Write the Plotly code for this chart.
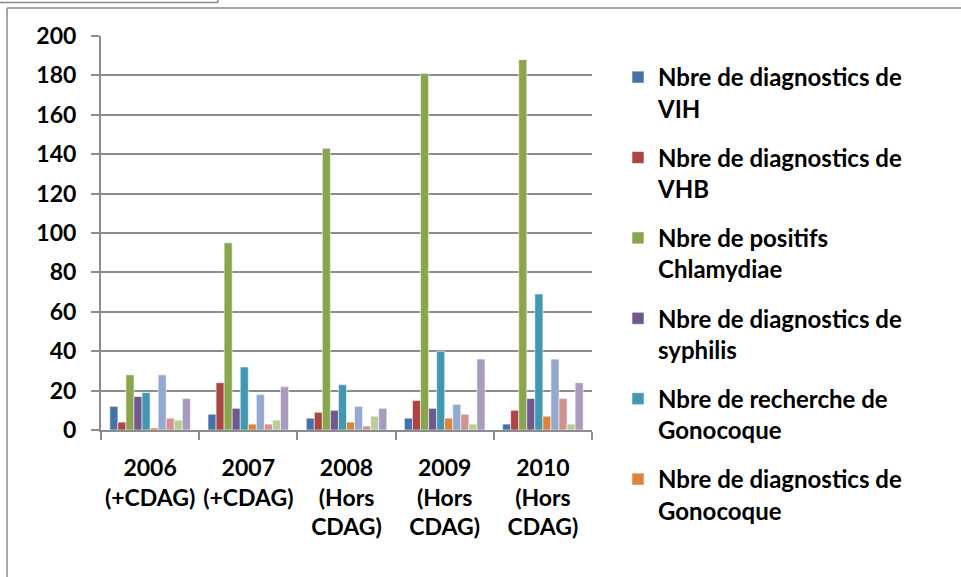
import plotly.graph_objects as go

categories = ["2006<br>(+CDAG)", "2007<br>(+CDAG)", "2008<br>(Hors<br>CDAG)",
              "2009<br>(Hors<br>CDAG)", "2010<br>(Hors<br>CDAG)"]

series_names = [
    "Nbre de diagnostics de<br>VIH",
    "Nbre de diagnostics de<br>VHB",
    "Nbre de positifs<br>Chlamydiae",
    "Nbre de diagnostics de<br>syphilis",
    "Nbre de recherche de<br>Gonocoque",
    "Nbre de diagnostics de<br>Gonocoque",
    "Série 7",
    "Série 8",
    "Série 9",
    "Série 10",
]

vih = [12, 8, 6, 6, 3]
vhb = [4, 24, 9, 15, 10]
chlamydiae = [28, 95, 143, 181, 188]
syphilis = [17, 11, 10, 11, 16]
rech_gono = [19, 32, 23, 40, 69]
diag_gono = [1, 3, 4, 6, 7]
serie7 = [28, 18, 12, 13, 36]
serie8 = [6, 3, 2, 8, 16]
serie9 = [5, 5, 7, 3, 3]
serie10 = [16, 22, 11, 36, 24]

all_values = [vih, vhb, chlamydiae, syphilis, rech_gono, diag_gono,
              serie7, serie8, serie9, serie10]
colors = ["#4572A7", "#AA4643", "#89A54E", "#71588F", "#4198AF",
          "#DB843D", "#93A9CF", "#D19392", "#B9CD96", "#A99BBD"]
legend_shown = [True] * 6 + [False] * 4

y_ticks = list(range(0, 201, 20))

fig = go.Figure()
for i, (name, vals, col, show) in enumerate(zip(series_names, all_values, colors, legend_shown)):
    fig.add_trace(go.Bar(
        x=categories, y=vals, name=name,
        marker=dict(color=col, line=dict(color="rgba(255,255,255,0.55)", width=1)),
        showlegend=show, legendgroup="g%d" % i,
    ))

# plot area in pixels: x 101..592, y 36..430
L, R, T, B = 101, 592, 36, 430
W, H = R - L, B - T

def px(x):
    return (x - L) / W

def py(y):
    return (B - y) / H

frame = "#8a8a8a"
shapes = [
    dict(type="line", xref="paper", yref="paper", x0=px(7), x1=px(7), y0=py(8), y1=py(578),
         line=dict(color=frame, width=1.5)),
    dict(type="line", xref="paper", yref="paper", x0=px(7), x1=px(962), y0=py(8), y1=py(8),
         line=dict(color=frame, width=1.5)),
    dict(type="line", xref="paper", yref="paper", x0=px(-1), x1=px(218), y0=py(2.5), y1=py(2.5),
         line=dict(color=frame, width=1.5)),
    dict(type="line", xref="paper", yref="paper", x0=px(218), x1=px(218), y0=py(-1), y1=py(2.5),
         line=dict(color=frame, width=1.5)),
]

tick_font = dict(family="Lato", size=23, color="black", weight="bold")
legend_font = dict(family="Lato", size=24, color="black", weight="bold")

fig.update_layout(
    width=961, height=577,
    margin=dict(l=L, r=961 - R, t=T, b=577 - B, autoexpand=False),
    paper_bgcolor="white", plot_bgcolor="white",
    barmode="group", bargap=0.18, bargroupgap=0,
    font=tick_font,
    shapes=shapes,
    legend=dict(
        x=px(618), y=py(55), xanchor="left", yanchor="top",
        traceorder="grouped", tracegroupgap=15, valign="top",
        font=legend_font, bgcolor="rgba(0,0,0,0)", maxheight=560,
    ),
    xaxis=dict(
        showline=True, linecolor="#8c8c8c", linewidth=2,
        ticks="outside", tickson="boundaries", ticklen=8, tickcolor="#8c8c8c", tickwidth=2,
        tickfont=tick_font, showgrid=False, tickangle=0, ticklabelstandoff=16,
    ),
    yaxis=dict(
        range=[0, 200], tickvals=y_ticks,
        showline=True, linecolor="#8c8c8c", linewidth=2,
        ticks="outside", ticklen=8, tickcolor="#8c8c8c", tickwidth=2,
        showgrid=True, gridcolor="#8c8c8c", gridwidth=1.5,
        zeroline=False, tickfont=tick_font, ticklabelstandoff=10,
    ),
)

fig.write_html("out.html", config={"displayModeBar": False},
               post_script="document.body.style.margin='0';document.body.style.overflow='hidden';")
